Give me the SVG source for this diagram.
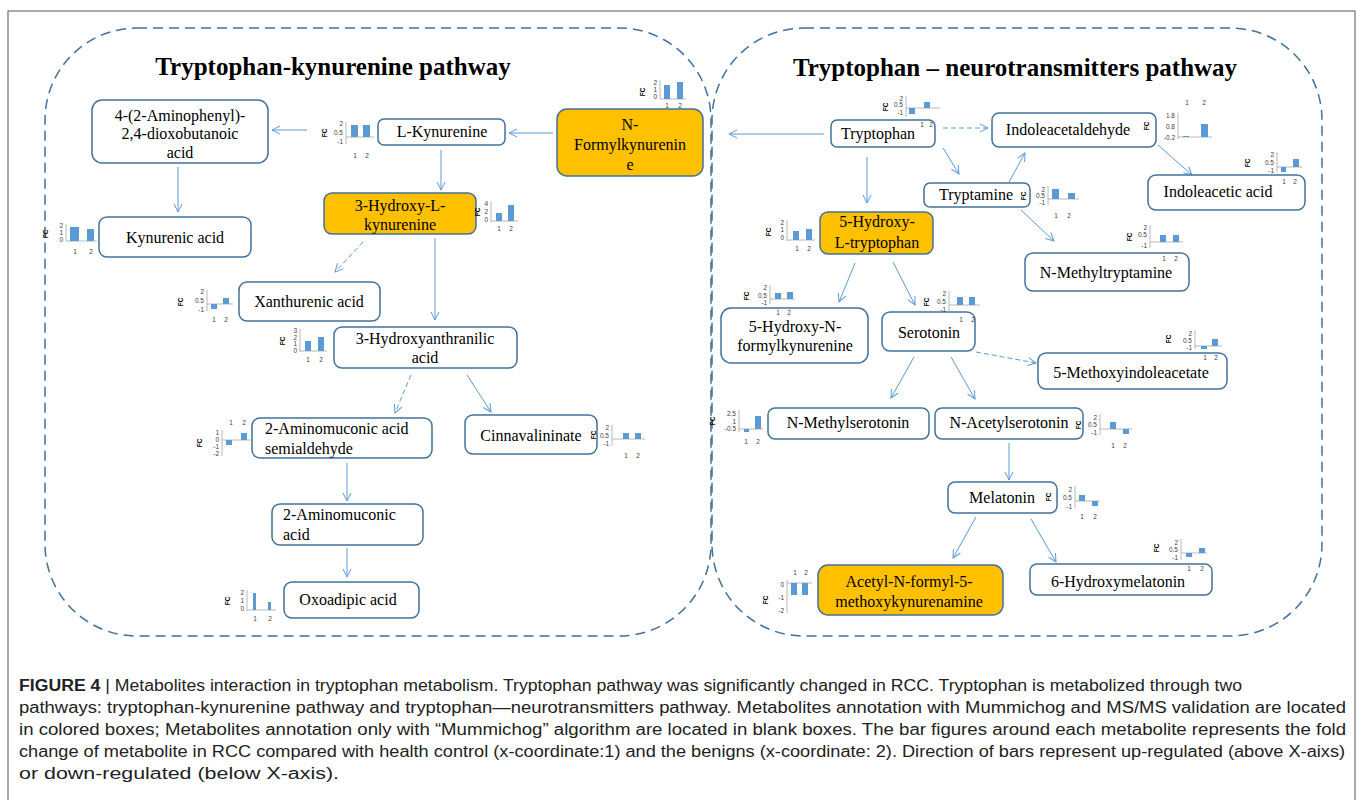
<svg xmlns="http://www.w3.org/2000/svg" width="1358" height="800" viewBox="0 0 1358 800">
<style>
.box{fill:#fff;stroke:#41719C;stroke-width:1.5}
.hl .box{fill:#FFC000}
.lbl{font-family:"Liberation Serif",serif;font-size:16px;fill:#000;text-anchor:middle}
.lbl.l{text-anchor:start}
.title{font-family:"Liberation Serif",serif;font-weight:bold;font-size:25px;text-anchor:middle;fill:#000}
.panel{fill:none;stroke:#41719C;stroke-width:1.5;stroke-dasharray:10 6}
.conn line{stroke:#5B9BD5;stroke-width:1;marker-end:url(#arr)}
.conn line.d{stroke-dasharray:5 3}
.ax{stroke:#A6A6A6;stroke-width:0.8}
.bar{fill:#5B9BD5}
.ch text{font-family:"Liberation Sans",sans-serif;font-size:6.5px;fill:#404040}
.ch .tk{text-anchor:end}
.ch .xl{text-anchor:middle}
.ch .fc{font-weight:bold;text-anchor:middle;fill:#000}
.cap{font-family:"Liberation Sans",sans-serif;font-size:16px;fill:#222}
</style>
<defs>
<marker id="arr" markerWidth="10" markerHeight="10" refX="9" refY="5" orient="auto" markerUnits="userSpaceOnUse">
<path d="M1,1 L9,5 L1,9" fill="none" stroke="#5B9BD5" stroke-width="1"/>
</marker>
</defs>
<rect x="8" y="11" width="1347" height="800" fill="#fff" stroke="#555" stroke-width="1"/>

<g id="panels">
<rect class="panel" x="45" y="28" width="666" height="608" rx="92"/>
<rect class="panel" x="712" y="28" width="610" height="608" rx="92"/>
<text class="title" x="333" y="75">Tryptophan-kynurenine pathway</text>
<text class="title" x="1015" y="76">Tryptophan – neurotransmitters pathway</text>
</g>

<g id="connectors" class="conn">
<line x1="553" y1="133" x2="509" y2="133"/>
<line x1="307" y1="130" x2="272" y2="130"/>
<line x1="178" y1="167" x2="178" y2="212"/>
<line x1="441" y1="150" x2="441" y2="190"/>
<line class="d" x1="363" y1="242" x2="335" y2="272"/>
<line x1="435" y1="238" x2="435" y2="320"/>
<line class="d" x1="411" y1="375" x2="395" y2="413"/>
<line x1="467" y1="375" x2="491" y2="412"/>
<line x1="347" y1="463" x2="347" y2="501"/>
<line x1="347" y1="548" x2="347" y2="577"/>
<line x1="824" y1="134" x2="729" y2="134"/>
<line class="d" x1="943" y1="128" x2="988" y2="128"/>
<line x1="943" y1="148" x2="959" y2="174"/>
<line x1="867" y1="157" x2="867" y2="203"/>
<line x1="1009" y1="182" x2="1025" y2="153"/>
<line x1="1158" y1="145" x2="1192" y2="175"/>
<line x1="1021" y1="210" x2="1054" y2="241"/>
<line x1="855" y1="263" x2="839" y2="302"/>
<line x1="893" y1="262" x2="915" y2="305"/>
<line class="d" x1="976" y1="352" x2="1036" y2="363"/>
<line x1="914" y1="357" x2="891" y2="398"/>
<line x1="951" y1="357" x2="975" y2="399"/>
<line x1="1009" y1="443" x2="1009" y2="480"/>
<line x1="976" y1="517" x2="953" y2="558"/>
<line x1="1031" y1="519" x2="1056" y2="562"/>
</g>

<!-- Left panel nodes -->
<g id="n-aminophenyl">
<rect class="box" x="92" y="100" width="176" height="63" rx="10"/>
<text class="lbl" x="180" y="121">4-(2-Aminophenyl)-</text>
<text class="lbl" x="180" y="139">2,4-dioxobutanoic</text>
<text class="lbl" x="180" y="158">acid</text>
</g>

<g id="n-lkynurenine">
<rect class="box" x="378" y="119" width="127" height="26" rx="6"/>
<text class="lbl" x="442" y="137">L-Kynurenine</text>
<g class="ch">
<text class="fc" transform="translate(327,133) rotate(-90)">FC</text>
<text class="tk" x="343" y="126">2</text><text class="tk" x="343" y="135">0.5</text><text class="tk" x="343" y="144">-1</text>
<line class="ax" x1="346" y1="122" x2="346" y2="144"/><line class="ax" x1="346" y1="137" x2="374" y2="137"/>
<rect class="bar" x="351" y="125" width="7" height="12"/><rect class="bar" x="363" y="125" width="7" height="12"/>
<text class="xl" x="355" y="158">1</text><text class="xl" x="367" y="158">2</text>
</g>
</g>

<g id="n-nformylkynurenine" class="hl">
<rect class="box" x="557" y="109" width="146" height="67" rx="10"/>
<text class="lbl" x="630" y="130">N-</text>
<text class="lbl" x="630" y="150">Formylkynurenin</text>
<text class="lbl" x="630" y="170">e</text>
<g class="ch">
<text class="fc" transform="translate(645,92) rotate(-90)">FC</text>
<text class="tk" x="657" y="85">2</text><text class="tk" x="657" y="92">1</text><text class="tk" x="657" y="99">0</text>
<line class="ax" x1="660" y1="80" x2="660" y2="99"/><line class="ax" x1="660" y1="99" x2="686" y2="99"/>
<rect class="bar" x="664" y="85" width="6" height="14"/><rect class="bar" x="677" y="82" width="6" height="17"/>
<text class="xl" x="667" y="108">1</text><text class="xl" x="680" y="108">2</text>
</g>
</g>

<g id="n-3hydroxykynurenine" class="hl">
<rect class="box" x="324" y="193" width="152" height="41" rx="8"/>
<text class="lbl" x="400" y="211">3-Hydroxy-L-</text>
<text class="lbl" x="400" y="230">kynurenine</text>
<g class="ch">
<text class="fc" transform="translate(480,212) rotate(-90)">FC</text>
<text class="tk" x="488" y="206">4</text><text class="tk" x="488" y="214">2</text><text class="tk" x="488" y="222">0</text>
<line class="ax" x1="491" y1="201" x2="491" y2="222"/><line class="ax" x1="491" y1="221" x2="518" y2="221"/>
<rect class="bar" x="496" y="213" width="6" height="8"/><rect class="bar" x="508" y="205" width="6" height="16"/>
<text class="xl" x="499" y="231">1</text><text class="xl" x="511" y="231">2</text>
</g>
</g>

<g id="n-kynurenic">
<rect class="box" x="99" y="217" width="152" height="40" rx="8"/>
<text class="lbl" x="175" y="243">Kynurenic acid</text>
<g class="ch">
<text class="fc" transform="translate(48,234) rotate(-90)">FC</text>
<text class="tk" x="63" y="228">2</text><text class="tk" x="63" y="235">1</text><text class="tk" x="63" y="242">0</text>
<line class="ax" x1="66" y1="224" x2="66" y2="241"/><line class="ax" x1="66" y1="241" x2="97" y2="241"/>
<rect class="bar" x="70" y="227" width="9" height="14"/><rect class="bar" x="87" y="229" width="7" height="12"/>
<text class="xl" x="75" y="254">1</text><text class="xl" x="91" y="254">2</text>
</g>
</g>

<g id="n-xanthurenic">
<rect class="box" x="239" y="282" width="141" height="39" rx="8"/>
<text class="lbl" x="309" y="307">Xanthurenic acid</text>
<g class="ch">
<text class="fc" transform="translate(183,302) rotate(-90)">FC</text>
<text class="tk" x="204" y="294">2</text><text class="tk" x="204" y="303">0.5</text><text class="tk" x="204" y="312">-1</text>
<line class="ax" x1="207" y1="290" x2="207" y2="311"/><line class="ax" x1="207" y1="304" x2="233" y2="304"/>
<rect class="bar" x="211" y="304" width="6" height="5"/><rect class="bar" x="223" y="298" width="6" height="6"/>
<text class="xl" x="214" y="322">1</text><text class="xl" x="226" y="322">2</text>
</g>
</g>

<g id="n-3hydroxyanthranilic">
<rect class="box" x="334" y="327" width="183" height="41" rx="8"/>
<text class="lbl" x="425" y="344">3-Hydroxyanthranilic</text>
<text class="lbl" x="425" y="363">acid</text>
<g class="ch">
<text class="fc" transform="translate(285,341) rotate(-90)">FC</text>
<text class="tk" x="297" y="333">3</text><text class="tk" x="297" y="340">2</text><text class="tk" x="297" y="346">1</text><text class="tk" x="297" y="353">0</text>
<line class="ax" x1="300" y1="329" x2="300" y2="352"/><line class="ax" x1="300" y1="351" x2="327" y2="351"/>
<rect class="bar" x="305" y="341" width="6" height="10"/><rect class="bar" x="318" y="337" width="6" height="14"/>
<text class="xl" x="308" y="362">1</text><text class="xl" x="321" y="362">2</text>
</g>
</g>

<g id="n-aminomuconic-semialdehyde">
<rect class="box" x="252" y="418" width="180" height="40" rx="8"/>
<text class="lbl l" x="265" y="434">2-Aminomuconic acid</text>
<text class="lbl l" x="265" y="454">semialdehyde</text>
<g class="ch">
<text class="xl" x="231" y="425">1</text><text class="xl" x="244" y="425">2</text>
<text class="fc" transform="translate(202,443) rotate(-90)">FC</text>
<text class="tk" x="219" y="435">1</text><text class="tk" x="219" y="442">0</text><text class="tk" x="219" y="449">-1</text><text class="tk" x="219" y="456">-2</text>
<line class="ax" x1="222" y1="430" x2="222" y2="456"/><line class="ax" x1="222" y1="440" x2="252" y2="440"/>
<rect class="bar" x="226" y="440" width="6" height="5"/><rect class="bar" x="241" y="433" width="6" height="7"/>
</g>
</g>

<g id="n-cinnavalininate">
<rect class="box" x="465" y="415" width="132" height="39" rx="8"/>
<text class="lbl" x="531" y="441">Cinnavalininate</text>
<g class="ch">
<text class="fc" transform="translate(596,435) rotate(-90)">FC</text>
<text class="tk" x="609" y="430">2</text><text class="tk" x="609" y="438">0.5</text><text class="tk" x="609" y="446">-1</text>
<line class="ax" x1="612" y1="425" x2="612" y2="446"/><line class="ax" x1="612" y1="439" x2="645" y2="439"/>
<rect class="bar" x="623" y="433" width="6" height="6"/><rect class="bar" x="635" y="433" width="6" height="6"/>
<text class="xl" x="626" y="458">1</text><text class="xl" x="638" y="458">2</text>
</g>
</g>

<g id="n-aminomuconic">
<rect class="box" x="272" y="504" width="151" height="41" rx="8"/>
<text class="lbl l" x="283" y="520">2-Aminomuconic</text>
<text class="lbl l" x="283" y="540">acid</text>
</g>

<g id="n-oxoadipic">
<rect class="box" x="284" y="582" width="135" height="36" rx="8"/>
<text class="lbl" x="348" y="605">Oxoadipic acid</text>
<g class="ch">
<text class="fc" transform="translate(230,601) rotate(-90)">FC</text>
<text class="tk" x="244" y="595">2</text><text class="tk" x="244" y="603">1</text><text class="tk" x="244" y="611">0</text>
<line class="ax" x1="247" y1="590" x2="247" y2="611"/><line class="ax" x1="247" y1="610" x2="276" y2="610"/>
<rect class="bar" x="253" y="593" width="3" height="17"/><rect class="bar" x="268" y="602" width="3" height="8"/>
<text class="xl" x="255" y="621">1</text><text class="xl" x="270" y="621">2</text>
</g>
</g>

<!-- Right panel nodes -->
<g id="n-tryptophan">
<rect class="box" x="831" y="120" width="104" height="27" rx="6"/>
<text class="lbl" x="878" y="139">Tryptophan</text>
<g class="ch">
<text class="fc" transform="translate(888,107) rotate(-90)">FC</text>
<text class="tk" x="903" y="101">2</text><text class="tk" x="903" y="107">0.5</text><text class="tk" x="903" y="115">-1</text>
<line class="ax" x1="906" y1="96" x2="906" y2="117"/><line class="ax" x1="906" y1="108" x2="940" y2="108"/>
<rect class="bar" x="909" y="108" width="6" height="6"/><rect class="bar" x="924" y="102" width="6" height="6"/>
<text class="xl" x="922" y="127">1</text><text class="xl" x="931" y="127">2</text>
</g>
</g>

<g id="n-indoleacetaldehyde">
<rect class="box" x="992" y="113" width="164" height="34" rx="7"/>
<text class="lbl" x="1068" y="135">Indoleacetaldehyde</text>
<g class="ch">
<text class="xl" x="1187" y="105">1</text><text class="xl" x="1204" y="105">2</text>
<text class="fc" transform="translate(1149,126) rotate(-90)">FC</text>
<text class="tk" x="1175" y="118">1.8</text><text class="tk" x="1175" y="129">0.8</text><text class="tk" x="1175" y="140">-0.2</text>
<line class="ax" x1="1178" y1="113" x2="1178" y2="139"/><line class="ax" x1="1178" y1="137" x2="1212" y2="137"/>
<rect class="bar" x="1183" y="136" width="6" height="1"/><rect class="bar" x="1201" y="124" width="7" height="13"/>
</g>
</g>

<g id="n-tryptamine">
<rect class="box" x="924" y="183" width="106" height="24" rx="6"/>
<text class="lbl" x="976" y="200">Tryptamine</text>
<g class="ch">
<text class="fc" transform="translate(1026,196) rotate(-90)">FC</text>
<text class="tk" x="1045" y="192">2</text><text class="tk" x="1045" y="198">0.5</text><text class="tk" x="1045" y="205">-1</text>
<line class="ax" x1="1048" y1="186" x2="1048" y2="205"/><line class="ax" x1="1048" y1="199" x2="1079" y2="199"/>
<rect class="bar" x="1052" y="189" width="7" height="10"/><rect class="bar" x="1068" y="193" width="7" height="6"/>
<text class="xl" x="1056" y="218">1</text><text class="xl" x="1069" y="218">2</text>
</g>
</g>

<g id="n-indoleacetic">
<rect class="box" x="1148" y="175" width="157" height="35" rx="8"/>
<text class="lbl" x="1218" y="197">Indoleacetic acid</text>
<g class="ch">
<text class="fc" transform="translate(1250,163) rotate(-90)">FC</text>
<text class="tk" x="1274" y="157">2</text><text class="tk" x="1274" y="165">0.5</text><text class="tk" x="1274" y="173">-1</text>
<line class="ax" x1="1277" y1="152" x2="1277" y2="172"/><line class="ax" x1="1277" y1="167" x2="1302" y2="167"/>
<rect class="bar" x="1281" y="167" width="5" height="5"/><rect class="bar" x="1293" y="159" width="6" height="8"/>
<text class="xl" x="1284" y="184">1</text><text class="xl" x="1295" y="184">2</text>
</g>
</g>

<g id="n-5htp" class="hl">
<rect class="box" x="820" y="212" width="113" height="42" rx="8"/>
<text class="lbl" x="877" y="227">5-Hydroxy-</text>
<text class="lbl" x="877" y="248">L-tryptophan</text>
<g class="ch">
<text class="fc" transform="translate(771,232) rotate(-90)">FC</text>
<text class="tk" x="784" y="225">2</text><text class="tk" x="784" y="232">1</text><text class="tk" x="784" y="240">0</text>
<line class="ax" x1="787" y1="220" x2="787" y2="241"/><line class="ax" x1="787" y1="240" x2="815" y2="240"/>
<rect class="bar" x="793" y="231" width="6" height="9"/><rect class="bar" x="806" y="229" width="6" height="11"/>
<text class="xl" x="797" y="251">1</text><text class="xl" x="809" y="251">2</text>
</g>
</g>

<g id="n-nmethyltryptamine">
<rect class="box" x="1025" y="253" width="164" height="38" rx="8"/>
<text class="lbl" x="1106" y="278">N-Methyltryptamine</text>
<g class="ch">
<text class="fc" transform="translate(1132,237) rotate(-90)">FC</text>
<text class="tk" x="1147" y="230">2</text><text class="tk" x="1147" y="237">0.5</text><text class="tk" x="1147" y="248">-1</text>
<line class="ax" x1="1150" y1="225" x2="1150" y2="248"/><line class="ax" x1="1150" y1="242" x2="1183" y2="242"/>
<rect class="bar" x="1160" y="235" width="6" height="7"/><rect class="bar" x="1173" y="235" width="6" height="7"/>
<text class="xl" x="1164" y="261">1</text><text class="xl" x="1176" y="261">2</text>
</g>
</g>

<g id="n-5hnfk">
<rect class="box" x="721" y="308" width="147" height="55" rx="10"/>
<text class="lbl" x="795" y="332">5-Hydroxy-N-</text>
<text class="lbl" x="795" y="351">formylkynurenine</text>
<g class="ch">
<text class="fc" transform="translate(749,296) rotate(-90)">FC</text>
<text class="tk" x="767" y="290">2</text><text class="tk" x="767" y="298">0.5</text><text class="tk" x="767" y="305">-1</text>
<line class="ax" x1="770" y1="285" x2="770" y2="304"/><line class="ax" x1="770" y1="299" x2="795" y2="299"/>
<rect class="bar" x="775" y="293" width="6" height="6"/><rect class="bar" x="787" y="292" width="6" height="7"/>
<text class="xl" x="778" y="315">1</text><text class="xl" x="789" y="315">2</text>
</g>
</g>

<g id="n-serotonin">
<rect class="box" x="882" y="312" width="93" height="39" rx="8"/>
<text class="lbl" x="929" y="338">Serotonin</text>
<g class="ch">
<text class="fc" transform="translate(929,302) rotate(-90)">FC</text>
<text class="tk" x="946" y="296">2</text><text class="tk" x="946" y="304">0.5</text><text class="tk" x="946" y="312">-1</text>
<line class="ax" x1="949" y1="291" x2="949" y2="312"/><line class="ax" x1="949" y1="305" x2="980" y2="305"/>
<rect class="bar" x="957" y="297" width="6" height="8"/><rect class="bar" x="969" y="297" width="6" height="8"/>
<text class="xl" x="961" y="322">1</text><text class="xl" x="973" y="322">2</text>
</g>
</g>

<g id="n-5mia">
<rect class="box" x="1038" y="353" width="189" height="36" rx="8"/>
<text class="lbl" x="1131" y="378">5-Methoxyindoleacetate</text>
<g class="ch">
<text class="fc" transform="translate(1171,339) rotate(-90)">FC</text>
<text class="tk" x="1192" y="336">2</text><text class="tk" x="1192" y="343">0.5</text><text class="tk" x="1192" y="350">-1</text>
<line class="ax" x1="1195" y1="330" x2="1195" y2="349"/><line class="ax" x1="1195" y1="346" x2="1222" y2="346"/>
<rect class="bar" x="1201" y="346" width="6" height="3"/><rect class="bar" x="1212" y="339" width="6" height="7"/>
<text class="xl" x="1205" y="360">1</text><text class="xl" x="1216" y="360">2</text>
</g>
</g>

<g id="n-nmethylserotonin">
<rect class="box" x="768" y="408" width="161" height="31" rx="7"/>
<text class="lbl" x="848" y="428">N-Methylserotonin</text>
<g class="ch">
<text class="fc" transform="translate(715,421) rotate(-90)">FC</text>
<text class="tk" x="736" y="416">2.5</text><text class="tk" x="736" y="424">1</text><text class="tk" x="736" y="431">-0.5</text>
<line class="ax" x1="739" y1="410" x2="739" y2="432"/><line class="ax" x1="739" y1="429" x2="763" y2="429"/>
<rect class="bar" x="744" y="429" width="5" height="3"/><rect class="bar" x="755" y="416" width="6" height="13"/>
<text class="xl" x="746" y="444">1</text><text class="xl" x="758" y="444">2</text>
</g>
</g>

<g id="n-nacetylserotonin">
<rect class="box" x="935" y="408" width="148" height="31" rx="7"/>
<text class="lbl" x="1009" y="428">N-Acetylserotonin</text>
<g class="ch">
<text class="fc" transform="translate(1081,425) rotate(-90)">FC</text>
<text class="tk" x="1097" y="420">2</text><text class="tk" x="1097" y="427">0.5</text><text class="tk" x="1097" y="435">-1</text>
<line class="ax" x1="1100" y1="414" x2="1100" y2="435"/><line class="ax" x1="1100" y1="429" x2="1132" y2="429"/>
<rect class="bar" x="1110" y="422" width="6" height="7"/><rect class="bar" x="1123" y="429" width="6" height="5"/>
<text class="xl" x="1113" y="448">1</text><text class="xl" x="1125" y="448">2</text>
</g>
</g>

<g id="n-melatonin">
<rect class="box" x="948" y="482" width="109" height="31" rx="7"/>
<text class="lbl" x="1002" y="503">Melatonin</text>
<g class="ch">
<text class="fc" transform="translate(1051,497) rotate(-90)">FC</text>
<text class="tk" x="1072" y="492">2</text><text class="tk" x="1072" y="500">0.5</text><text class="tk" x="1072" y="509">-1</text>
<line class="ax" x1="1075" y1="486" x2="1075" y2="508"/><line class="ax" x1="1075" y1="501" x2="1100" y2="501"/>
<rect class="bar" x="1079" y="495" width="6" height="6"/><rect class="bar" x="1092" y="501" width="6" height="5"/>
<text class="xl" x="1082" y="519">1</text><text class="xl" x="1095" y="519">2</text>
</g>
</g>

<g id="n-afmk" class="hl">
<rect class="box" x="818" y="565" width="185" height="50" rx="10"/>
<text class="lbl" x="909" y="587">Acetyl-N-formyl-5-</text>
<text class="lbl" x="909" y="607">methoxykynurenamine</text>
<g class="ch">
<text class="xl" x="795" y="575">1</text><text class="xl" x="806" y="575">2</text>
<text class="fc" transform="translate(768,600) rotate(-90)">FC</text>
<text class="tk" x="784" y="587">0</text><text class="tk" x="784" y="600">-1</text><text class="tk" x="784" y="613">-2</text>
<line class="ax" x1="787" y1="580" x2="787" y2="613"/><line class="ax" x1="787" y1="583" x2="812" y2="583"/>
<rect class="bar" x="791" y="583" width="6" height="12"/><rect class="bar" x="802" y="583" width="6" height="12"/>
</g>
</g>

<g id="n-6hydroxymelatonin">
<rect class="box" x="1030" y="564" width="182" height="31" rx="7"/>
<text class="lbl" x="1118" y="587">6-Hydroxymelatonin</text>
<g class="ch">
<text class="fc" transform="translate(1159,548) rotate(-90)">FC</text>
<text class="tk" x="1178" y="545">2</text><text class="tk" x="1178" y="552">0.5</text><text class="tk" x="1178" y="560">-1</text>
<line class="ax" x1="1181" y1="539" x2="1181" y2="560"/><line class="ax" x1="1181" y1="553" x2="1207" y2="553"/>
<rect class="bar" x="1186" y="553" width="6" height="4"/><rect class="bar" x="1199" y="548" width="6" height="5"/>
<text class="xl" x="1189" y="571">1</text><text class="xl" x="1202" y="571">2</text>
</g>
</g>

<g id="caption" class="cap">
<text x="19" y="691" textLength="1223" lengthAdjust="spacingAndGlyphs"><tspan font-weight="bold">FIGURE 4</tspan> | Metabolites interaction in tryptophan metabolism. Tryptophan pathway was significantly changed in RCC. Tryptophan is metabolized through two</text>
<text x="19" y="713" textLength="1327" lengthAdjust="spacingAndGlyphs">pathways: tryptophan-kynurenine pathway and tryptophan—neurotransmitters pathway. Metabolites annotation with Mummichog and MS/MS validation are located</text>
<text x="19" y="735" textLength="1327" lengthAdjust="spacingAndGlyphs">in colored boxes; Metabolites annotation only with “Mummichog” algorithm are located in blank boxes. The bar figures around each metabolite represents the fold</text>
<text x="19" y="757" textLength="1326" lengthAdjust="spacingAndGlyphs">change of metabolite in RCC compared with health control (x-coordinate:1) and the benigns (x-coordinate: 2). Direction of bars represent up-regulated (above X-aixs)</text>
<text x="19" y="779" textLength="320" lengthAdjust="spacingAndGlyphs">or down-regulated (below X-axis).</text>
</g>
</svg>
